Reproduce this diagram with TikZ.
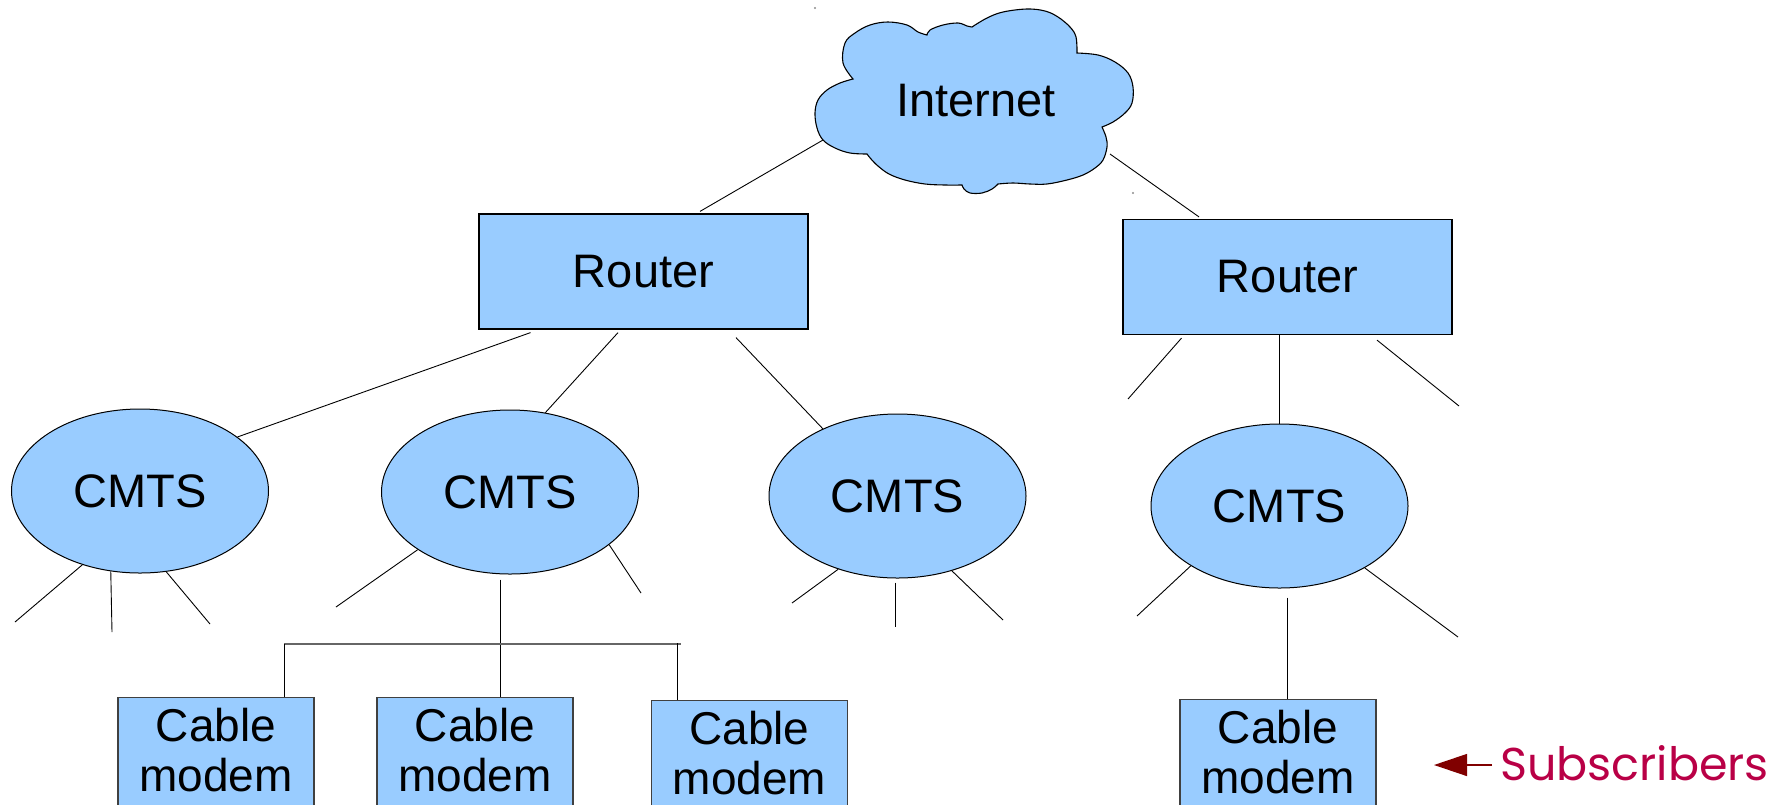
\documentclass[tikz,border=0pt]{standalone}
\usepackage{fontspec}
\setmainfont{Liberation Sans}
\newfontfamily\subsfont{Poppins}
\usetikzlibrary{arrows.meta,shapes.geometric}

\definecolor{netblue}{RGB}{153,204,255}
\definecolor{subred}{RGB}{185,0,70}
\definecolor{arrowred}{RGB}{128,0,0}

\begin{document}
\begin{tikzpicture}[x=1pt,y=-1pt,
  link/.style={line width=0.9pt, black},
  bus/.style={line width=1.6pt, black!60},
  cloudshape/.style={draw=black, line width=1.1pt, fill=netblue, line join=miter},
  bigtext/.style={inner sep=0pt, font=\fontsize{47}{56}\selectfont},
  routerbox/.style={bigtext, rectangle, draw=black, line width=1.2pt, fill=netblue,
    minimum width=329pt, minimum height=115pt},
  cmts/.style={bigtext, ellipse, draw=black, line width=1pt, fill=netblue,
    minimum width=257pt, minimum height=164pt},
  modembox/.style={rectangle, draw=black!75, line width=1.4pt, fill=netblue,
    minimum width=196pt, minimum height=150pt, anchor=north, inner sep=0pt},
  modemtext/.style={align=center, anchor=north, inner sep=0pt,
    font=\fontsize{46}{50}\selectfont},
  subslabel/.style={inner xsep=8pt, inner ysep=0pt, text=subred,
    font=\subsfont\fontsize{46}{50}\selectfont},
  subarrow/.style={line width=1.3pt, arrowred, -{Triangle[length=33pt,width=22pt]}}
]
\useasboundingbox (0,0) rectangle (1779,804);
\clip (0,0) rectangle (1779,804);

% Internet cloud, one smooth bump between each pair of notches
\filldraw[cloudshape]
  plot[smooth, tension=0.6] coordinates {(853,79) (843,63) (845,43) (855,33) (870,25) (888,22) (907,25) (918,32) (927,35)}
  -- plot[smooth, tension=0.6] coordinates {(927,35) (930,30) (943,25) (958,23) (967,26) (972,27)}
  -- plot[smooth, tension=0.6] coordinates {(972,27) (987,18) (1003,12) (1027,9) (1045,11) (1058,17) (1070,27) (1076,37) (1077,53)}
  -- plot[smooth, tension=0.6] coordinates {(1077,53) (1098,55) (1115,62) (1128,73) (1133,87) (1132,103) (1125,113) (1113,122) (1102,127)}
  -- plot[smooth, tension=0.6] coordinates {(1102,127) (1106,137) (1107,147) (1103,160) (1095,168) (1083,175) (1067,180) (1047,184) (1030,184) (1013,183) (998,184)}
  -- plot[smooth, tension=0.6] coordinates {(998,184) (992,189) (982,193) (970,193) (964,189) (962,185)}
  -- plot[smooth, tension=0.6] coordinates {(962,185) (945,185) (925,184) (905,180) (889,174) (878,166) (871,159) (867,154)}
  -- plot[smooth, tension=0.6] coordinates {(867,154) (850,153) (835,148) (823,140) (817,128) (815,113) (818,100) (827,90) (840,83) (853,79)}
  -- cycle;
\fill[black!45] (815,8) circle (1.1pt);
\fill[black!45] (1133,193) circle (1.1pt);
\node[bigtext] (inet) at (976,100.5) {Internet};
\coordinate (netL) at (823,140);
\coordinate (netR) at (1110,154);

% routers
\node[routerbox] (r1) at (643.5,271.5) {Router};
\node[routerbox] (r2) at (1287.5,277) {Router};

% CMTS heads
\node[cmts] (c1) at (140,491) {CMTS};
\node[cmts] (c2) at (510,492) {CMTS};
\node[cmts] (c3) at (897.5,496) {CMTS};
\node[cmts] (c4) at (1279.5,506) {CMTS};

% cable modems
\node[modembox] (m1) at (216,697) {};
\node[modembox] (m2) at (475,697) {};
\node[modembox] (m3) at (749.5,700) {};
\node[modembox] (m4) at (1278,699) {};
\node[modemtext] (m1t) at (216,708) {Cable\\modem};
\node[modemtext] (m2t) at (475,708) {Cable\\modem};
\node[modemtext] (m3t) at (749.5,711) {Cable\\modem};
\node[modemtext] (m4t) at (1278,710) {Cable\\modem};

% internet to routers
\draw[link] (netL) -- ([shift={(56.5,-2)}]r1.north);
\draw[link] (netR) -- ([shift={(-88.5,-2)}]r2.north);

% router 1 to its CMTS heads
\draw[link] ([shift={(-113,3)}]r1.south) -- (c1.29);
\draw[link] ([shift={(-25.5,3)}]r1.south) -- (c2.66);
\draw[link] ([shift={(92.5,8)}]r1.south) -- (c3.138);

% router 2
\coordinate (r2a) at (1128,399);
\coordinate (r2b) at (1459,406);
\draw[link] ([shift={(-106,3)}]r2.south) -- (r2a);
\draw[link] (c4.north |- r2.south) -- (c4.north);
\draw[link] ([shift={(89.5,5)}]r2.south) -- (r2b);

% open feeds below the CMTS heads
\coordinate (c1a) at (15,622);
\coordinate (c1b) at (112,632);
\coordinate (c1c) at (210,624);
\draw[link] (c1.-128) -- (c1a);
\draw[link] (c1.-110) -- (c1b);
\draw[link] (c1.-72.7) -- (c1c);

\coordinate (c2a) at (336,607);
\coordinate (c2b) at (641,593);
\draw[link] (c2.-148) -- (c2a);
\draw[link] (c2.-28) -- (c2b);

\coordinate (c3a) at (792,603);
\coordinate (c3b) at (895,627);
\coordinate (c3c) at (1003,620);
\draw[link] (c3.-129.4) -- (c3a);
\draw[link] ([shift={(-2.5,4)}]c3.south) -- (c3b);
\draw[link] (c3.-54.2) -- (c3c);

\coordinate (c4a) at (1137,616);
\coordinate (c4b) at (1458,637);
\draw[link] (c4.-146.9) -- (c4a);
\draw[link] (c4.-36.4) -- (c4b);
\path ([shift={(7.5,9)}]c4.south) coordinate (c4drop);
\draw[link] (c4drop) -- (c4drop |- m4.north);

% distribution bus of the second CMTS
\coordinate (busL) at (284,644);
\coordinate (busR) at (681,644);
\coordinate (busT) at (677,643);
\path ([shift={(-10,5)}]c2.south) coordinate (c2drop);
\draw[link] (c2drop) -- (c2drop |- m2.north);
\draw[bus] (busL) -- (busR);
\draw[link] (busL) -- (busL |- m1.north);
\draw[link] (busT) -- (busT |- m3.north);

% subscribers marker
\node[subslabel, anchor=base west] (subs) at (1492,780) {Subscribers};
\coordinate (subtip) at (1434,765);
\draw[subarrow] (subs.west |- subtip) -- (subtip);
\end{tikzpicture}
\end{document}
